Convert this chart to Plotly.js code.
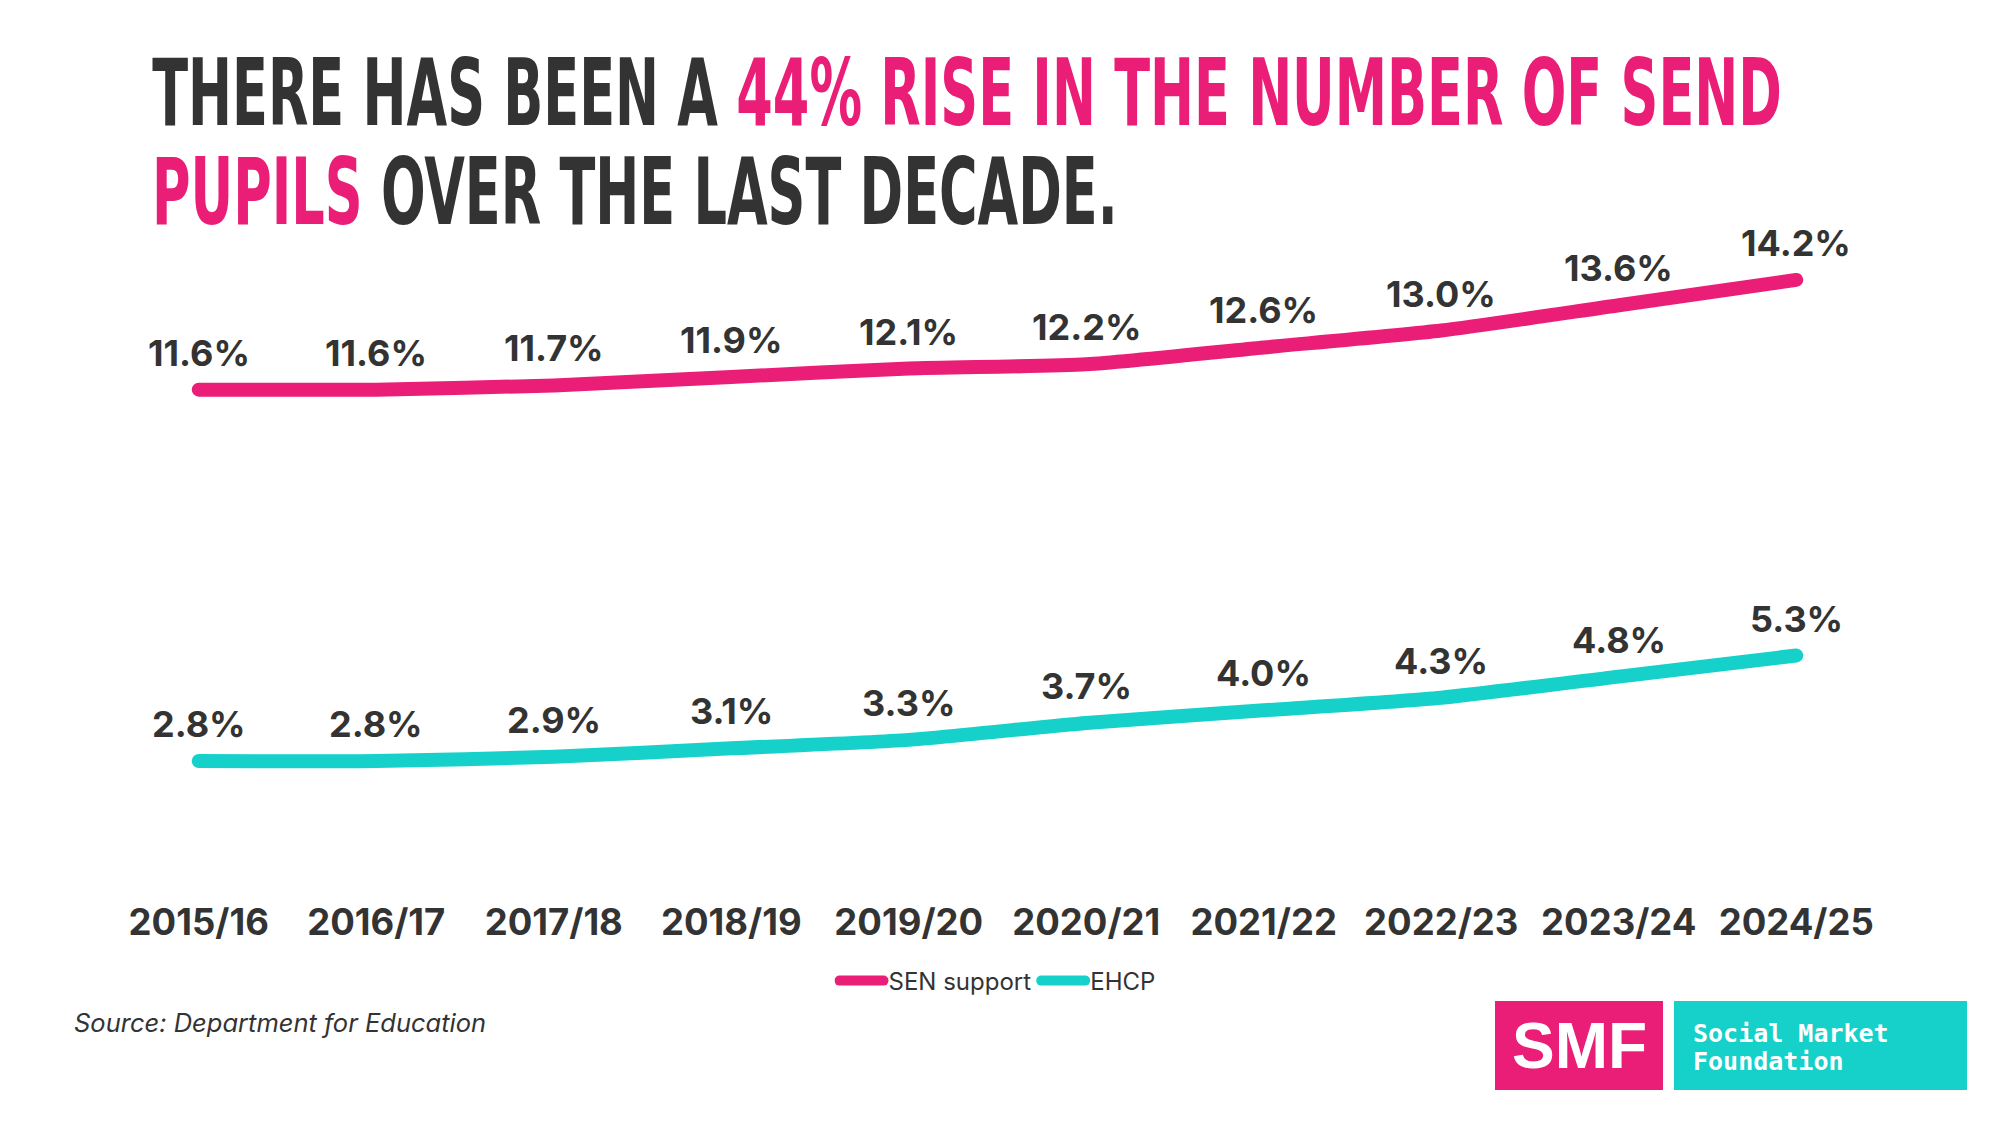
<!DOCTYPE html>
<html>
<head>
<meta charset="utf-8">
<script src="https://cdn.plot.ly/plotly-3.0.1.min.js"></script>
<style>
html,body{margin:0;padding:0;background:#fff;}
#chart{width:2000px;height:1125px;}
#chart path.js-line{stroke-linecap:round;stroke-linejoin:round;}
</style>
</head>
<body>
<div id="chart"></div>
<script>
// ---- data ----
const years = ['2015/16','2016/17','2017/18','2018/19','2019/20','2020/21','2021/22','2022/23','2023/24','2024/25'];
const senSupport = [11.6, 11.6, 11.7, 11.9, 12.1, 12.2, 12.6, 13.0, 13.6, 14.2];
const ehcp = [2.8, 2.8, 2.9, 3.1, 3.3, 3.7, 4.0, 4.3, 4.8, 5.3];
const seriesNames = ['SEN support', 'EHCP'];
const titleLine1 = ['THERE HAS BEEN A ', '44% RISE IN THE NUMBER OF SEND'];
const titleLine2 = ['PUPILS', ' OVER THE LAST DECADE.'];
const sourceText = 'Source: Department for Education';
const logoShort = 'SMF';
const logoLong = ['Social Market', 'Foundation'];

// ---- style ----
const PINK = '#EA1E77';
const TEAL = '#15D1C9';
const DARK = '#333333';
const W = 2000, H = 1125;
const M = {l: 110, r: 115, t: 200, b: 228};
const PW = W - M.l - M.r, PH = H - M.t - M.b;
const px = x => (x - M.l) / PW;          // pixel -> paper x
const py = y => (H - M.b - y) / PH;      // pixel -> paper y

const labelFont = {family: 'Inter, "Open Sans", sans-serif', size: 36, color: DARK, weight: 700};
const titleFont = {family: '"DejaVu Sans", sans-serif', size: 60, color: DARK, weight: 700};

const traces = [
  {x: years, y: senSupport, name: seriesNames[0], type: 'scatter', mode: 'lines',
   line: {color: PINK, width: 14, shape: 'spline', smoothing: 0.6}, hoverinfo: 'skip'},
  {x: years, y: ehcp, name: seriesNames[1], type: 'scatter', mode: 'lines',
   line: {color: TEAL, width: 14, shape: 'spline', smoothing: 0.6}, hoverinfo: 'skip'}
];

const annotations = [];
[senSupport, ehcp].forEach(series => {
  series.forEach((v, i) => {
    annotations.push({x: years[i], y: v, xref: 'x', yref: 'y', text: v.toFixed(1) + '%',
      showarrow: false, yshift: 37, xanchor: 'center', yanchor: 'middle', font: labelFont});
  });
});

annotations.push({xref: 'paper', yref: 'paper', x: px(150), y: py(93), xanchor: 'left', yanchor: 'middle',
  showarrow: false, font: titleFont, name: 'title1',
  text: '<b>' + titleLine1[0] + '<span style="color:' + PINK + '">' + titleLine1[1] + '</span></b>'});
annotations.push({xref: 'paper', yref: 'paper', x: px(150), y: py(192), xanchor: 'left', yanchor: 'middle',
  showarrow: false, font: titleFont, name: 'title2',
  text: '<b><span style="color:' + PINK + '">' + titleLine2[0] + '</span>' + titleLine2[1] + '</b>'});

annotations.push({xref: 'paper', yref: 'paper', x: px(72), y: py(1022), xanchor: 'left', yanchor: 'middle',
  showarrow: false, text: '<i>' + sourceText + '</i>',
  font: {family: 'Inter, "Open Sans", sans-serif', size: 25.5, color: DARK}});

annotations.push({xref: 'paper', yref: 'paper', x: px(1579), y: py(1046), xanchor: 'center', yanchor: 'middle',
  showarrow: false, text: '<b>' + logoShort + '</b>',
  font: {family: '"Liberation Sans", Arial, sans-serif', size: 64, color: '#ffffff'}});
annotations.push({xref: 'paper', yref: 'paper', x: px(1691), y: py(1033), xanchor: 'left', yanchor: 'middle',
  showarrow: false, text: '<b>' + logoLong[0] + '</b>',
  font: {family: '"DejaVu Sans Mono", monospace', size: 25, color: '#ffffff'}});
annotations.push({xref: 'paper', yref: 'paper', x: px(1691), y: py(1061), xanchor: 'left', yanchor: 'middle',
  showarrow: false, text: '<b>' + logoLong[1] + '</b>',
  font: {family: '"DejaVu Sans Mono", monospace', size: 25, color: '#ffffff'}});

const shapes = [
  {type: 'rect', xref: 'paper', yref: 'paper', x0: px(1495), x1: px(1663), y0: py(1001), y1: py(1090),
   fillcolor: PINK, line: {width: 0}, layer: 'above'},
  {type: 'rect', xref: 'paper', yref: 'paper', x0: px(1674), x1: px(1967), y0: py(1001), y1: py(1090),
   fillcolor: TEAL, line: {width: 0}, layer: 'above'}
];

const layout = {
  width: W, height: H,
  margin: M,
  paper_bgcolor: '#ffffff', plot_bgcolor: '#ffffff',
  showlegend: true,
  legend: {orientation: 'h', x: 0.5, xanchor: 'center', y: py(981), yanchor: 'middle',
    font: {family: 'Inter, "Open Sans", sans-serif', size: 24, color: DARK}, itemwidth: 44, traceorder: 'normal'},
  xaxis: {type: 'category', range: [-0.5, 9.5], showgrid: false, zeroline: false, showline: false,
    ticks: '', ticklabelstandoff: 0,
    tickfont: {family: 'Inter, "Open Sans", sans-serif', size: 36.5, color: DARK, weight: 700}, fixedrange: true},
  yaxis: {range: [-0.423, 16.094], visible: false, showgrid: false, zeroline: false, fixedrange: true},
  annotations: annotations,
  shapes: shapes
};

Plotly.newPlot('chart', traces, layout, {staticPlot: true, displayModeBar: false}).then(gd => {
  // condense the headline: stretch the two title lines vertically and fit line 1 to its width
  const targetWidth = 1630;   // width of headline line 1 in the reference
  const targetCap = 68;       // cap height of the headline in the reference
  const capRatio = 0.729;     // DejaVu Sans cap height / em
  const texts = Array.from(gd.querySelectorAll('g.annotation text.annotation-text'));
  const t1 = texts.find(t => t.textContent.startsWith(titleLine1[0]));
  const t2 = texts.find(t => t.textContent.startsWith(titleLine2[0]));
  if (!t1 || !t2) return;
  const w1 = t1.getBBox().width;
  const sx = targetWidth / w1;
  const sy = targetCap / (capRatio * titleFont.size);
  [t1, t2].forEach(t => {
    t.style.transformBox = 'fill-box';
    t.style.transformOrigin = '0% 50%';
    t.style.transform = 'scale(' + sx + ',' + sy + ')';
  });
});
</script>
</body>
</html>
